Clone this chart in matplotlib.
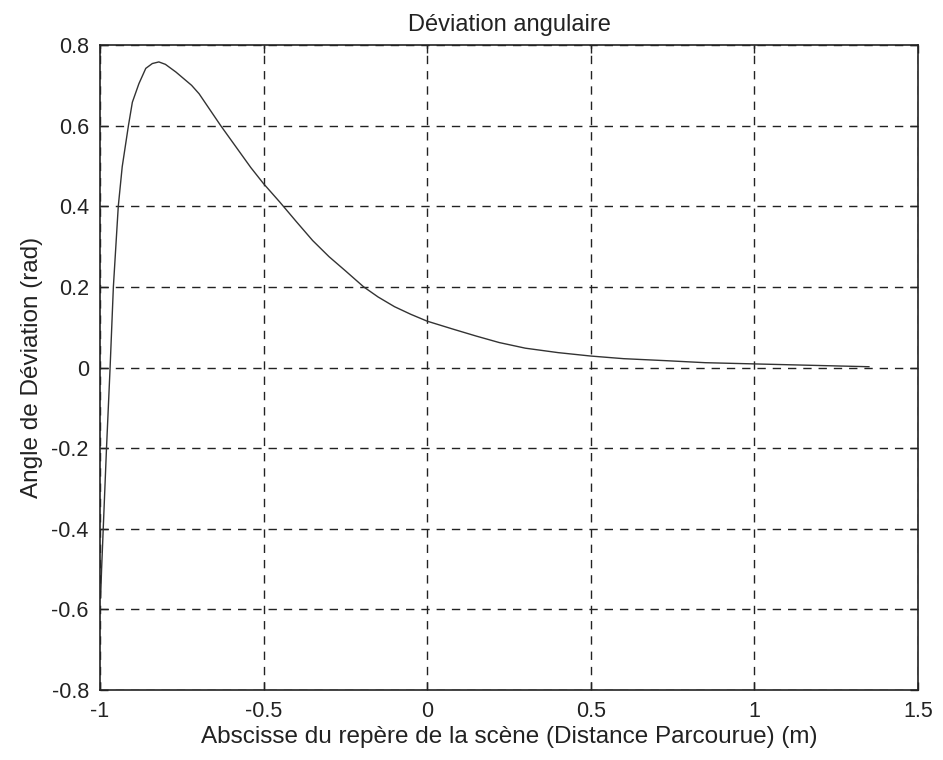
import matplotlib
matplotlib.use("Agg")
import matplotlib.pyplot as plt

plt.rcParams['font.family'] = ['Liberation Sans', 'DejaVu Sans']

distance_m = [-0.998, -0.995, -0.99, -0.98, -0.969, -0.959, -0.944, -0.932, -0.913,
              -0.901, -0.881, -0.86, -0.84, -0.82, -0.8, -0.768, -0.72, -0.697,
              -0.631, -0.585, -0.539, -0.5, -0.45, -0.4, -0.35, -0.3, -0.25,
              -0.194, -0.15, -0.1, -0.05, 0.0, 0.08, 0.15, 0.22, 0.3, 0.4, 0.5,
              0.6, 0.73, 0.85, 1.0, 1.15, 1.25, 1.35]
deviation_rad = [-0.57, -0.5, -0.4, -0.2, 0.0, 0.2, 0.4, 0.498, 0.6,
                 0.658, 0.704, 0.742, 0.754, 0.758, 0.752, 0.733, 0.700, 0.679,
                 0.6, 0.548, 0.496, 0.456, 0.41, 0.362, 0.315, 0.275, 0.24,
                 0.2, 0.175, 0.151, 0.132, 0.115, 0.095, 0.078, 0.062, 0.048,
                 0.037, 0.0285, 0.022, 0.017, 0.012, 0.009, 0.006, 0.004, 0.002]

x_ticks = [-1, -0.5, 0, 0.5, 1, 1.5]
x_tick_labels = ['-1', '-0.5', '0', '0.5', '1', '1.5']
y_ticks = [-0.8, -0.6, -0.4, -0.2, 0, 0.2, 0.4, 0.6, 0.8]
y_tick_labels = ['-0.8', '-0.6', '-0.4', '-0.2', '0', '0.2', '0.4', '0.6', '0.8']

fig = plt.figure(figsize=(9.43, 7.6), dpi=100)
ax = fig.add_axes([0.106, 0.092, 0.8675, 0.8488])
ax.plot(distance_m, deviation_rad, color='#333333', lw=1.0)

ax.set_xlim(-1, 1.5)
ax.set_ylim(-0.8, 0.8)
ax.set_xticks(x_ticks)
ax.set_xticklabels(x_tick_labels)
ax.set_yticks(y_ticks)
ax.set_yticklabels(y_tick_labels)
ax.tick_params(direction='in', top=True, right=True, length=6, width=1,
               labelsize=15.5, colors='#222222', pad=8)
ax.grid(True, color='#222222', linestyle=(0, (6, 5)), linewidth=1.0)
for s in ax.spines.values():
    s.set_color('#222222')
    s.set_linewidth(1.2)

ax.set_title('Déviation angulaire', fontsize=17, color='#222222', pad=10)
ax.set_xlabel('Abscisse du repère de la scène (Distance Parcourue) (m)',
              fontsize=17.5, color='#222222', labelpad=3)
ax.set_ylabel('Angle de Déviation (rad)', fontsize=17.5, color='#222222', labelpad=6)

fig.savefig('out.png', dpi=100, facecolor='white')
